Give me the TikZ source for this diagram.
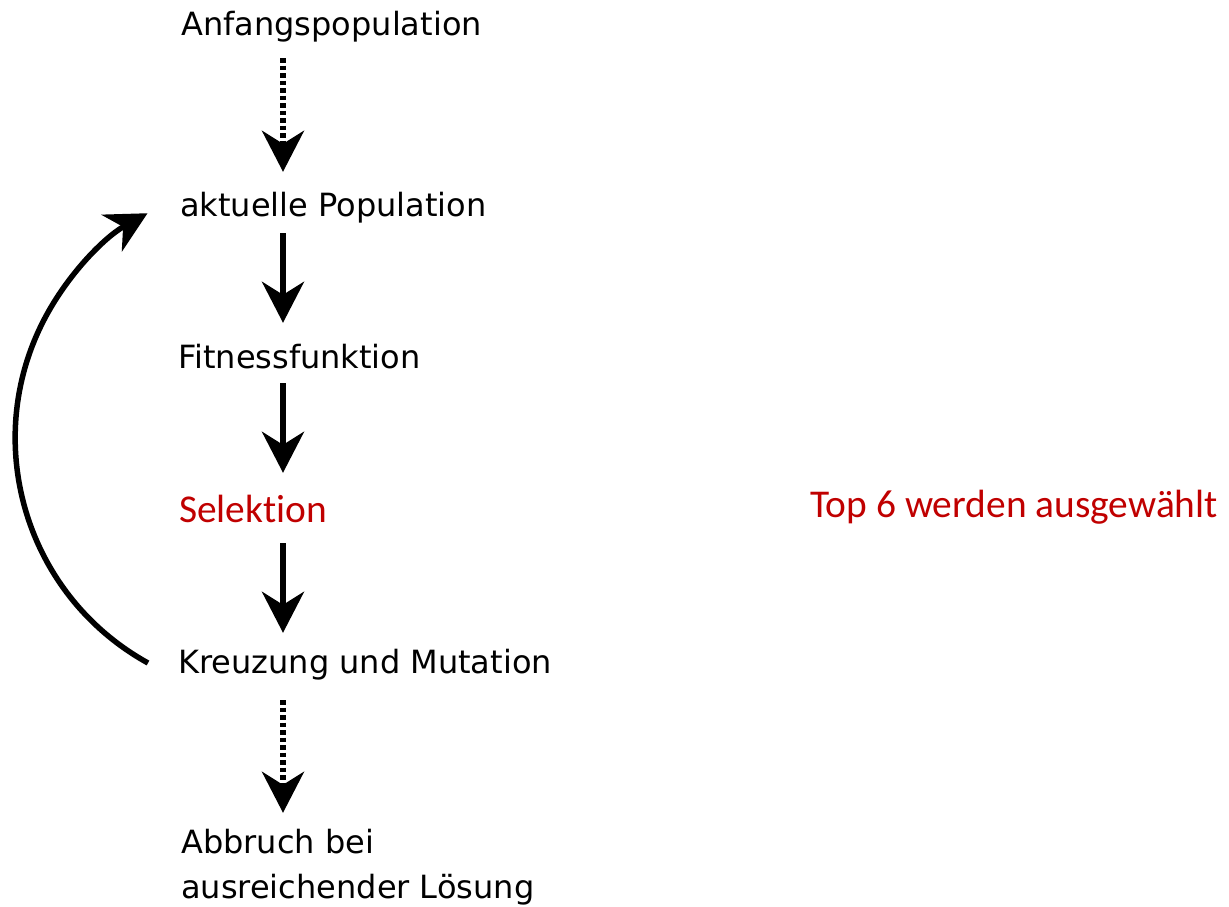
\documentclass[tikz,border=0pt]{standalone}
\usepackage{fontspec}
\setmainfont{DejaVu Sans}
\newfontfamily\calibfont[Ligatures=NoCommon]{Carlito}
\usetikzlibrary{arrows.meta}
\definecolor{selred}{HTML}{C00000}
\begin{document}
\begin{tikzpicture}[x=1pt,y=1pt,
  lbl/.style={anchor=base west, inner sep=0pt, text height=24pt, text depth=8pt,
              font=\fontsize{32}{45}\selectfont},
  redlbl/.style={lbl, text=selred, font=\calibfont\fontsize{39.4}{47}\selectfont},
  flow/.style={line width=5.5pt, -{Stealth[length=41pt,width=42pt,inset=13pt]}},
  dotflow/.style={flow, dash pattern=on 4.5pt off 3pt}]
\useasboundingbox (0,0) rectangle (1229,-907);
\node[lbl] (anf) at (181,-36) {Anfangspopulation};
\node[lbl] (akt) at (180,-216) {aktuelle Population};
\node[lbl] (fit) at (178,-368) {Fitnessfunktion};
\node[redlbl] (sel) at (179,-522) {Selektion};
\node[redlbl] (top) at (810,-517) {Top 6 werden ausgewählt};
\node[lbl] (kreuz) at (178,-673) {Kreuzung und Mutation};
\node[lbl] (abb) at (181,-853) {\begin{tabular}[t]{@{}l@{}}Abbruch bei\\ausreichender Lösung\end{tabular}};
\coordinate (ax) at (283,0);
\draw[dotflow, shorten <=14pt, shorten >=20pt] (ax |- anf.south) -- (ax |- akt.north);
\draw[flow, shorten <=9pt, shorten >=21pt] (ax |- akt.south) -- (ax |- fit.north);
\draw[flow, shorten <=7pt, shorten >=25pt] (ax |- fit.south) -- (ax |- sel.north);
\draw[flow, shorten <=13pt, shorten >=16pt] (ax |- sel.south) -- (ax |- kreuz.north);
\draw[dotflow, shorten <=19pt, shorten >=16pt] (ax |- kreuz.south) -- (ax |- abb.north);
\draw[flow] ([shift={(-30pt,2pt)}]kreuz.west) arc[start angle=241.1, end angle=119, radius=257pt];
\end{tikzpicture}
\end{document}
